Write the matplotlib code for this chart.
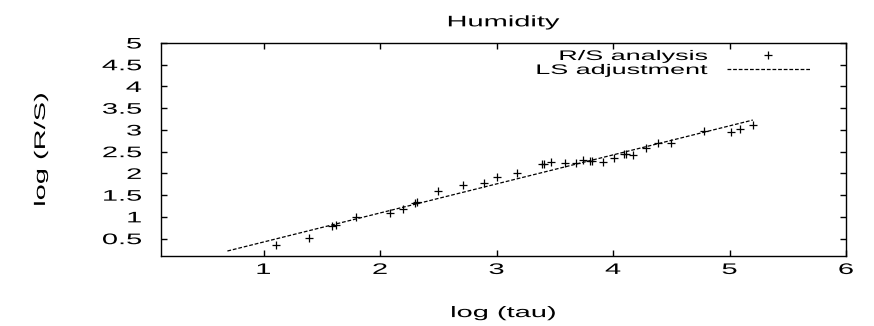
import matplotlib
matplotlib.use("Agg")
import matplotlib.pyplot as plt
import numpy as np
from matplotlib.patheffects import AbstractPathEffect
from matplotlib.transforms import Affine2D

plt.rcParams['font.family'] = ['Liberation Sans', 'DejaVu Sans']

# R/S analysis points
log_tau = [1.107, 1.393, 1.59, 1.62, 1.794, 2.086, 2.20, 2.30, 2.32, 2.495,
           2.71, 2.896, 3.0, 3.18, 3.39, 3.41, 3.47, 3.59, 3.68, 3.74,
           3.80, 3.82, 3.91, 4.01, 4.09, 4.11, 4.17, 4.285, 4.385, 4.50,
           4.785, 5.015, 5.09, 5.20]
log_rs = [0.35, 0.52, 0.79, 0.82, 0.99, 1.09, 1.18, 1.32, 1.34, 1.59,
          1.73, 1.79, 1.91, 2.00, 2.21, 2.21, 2.26, 2.25, 2.24, 2.31,
          2.29, 2.29, 2.26, 2.36, 2.44, 2.44, 2.42, 2.58, 2.69, 2.71,
          2.97, 2.95, 3.02, 3.11]

# least squares line
fit_slope = 0.668
fit_icpt = -0.246
fit_range = [0.69, 5.20]

yticks = [0.5, 1, 1.5, 2, 2.5, 3, 3.5, 4, 4.5, 5]
xticks = [1, 2, 3, 4, 5, 6]

FS = 11
SX = 1.9  # the old gnuplot png looks stretched sideways


class Stretch(AbstractPathEffect):
    """widen glyphs horizontally, keeping left/center/right edge fixed"""
    def __init__(self, sx, anchor='center'):
        super().__init__()
        self.sx = sx
        self.anchor = anchor

    def draw_path(self, renderer, gc, tpath, affine, rgbFace=None):
        ext = tpath.get_extents()
        if self.anchor == 'left':
            x0 = ext.x0
        elif self.anchor == 'right':
            x0 = ext.x1
        else:
            x0 = 0.5 * (ext.x0 + ext.x1)
        t = Affine2D().translate(-x0, 0).scale(self.sx, 1).translate(x0, 0)
        renderer.draw_path(gc, tpath, t + affine, rgbFace)


fig = plt.figure(figsize=(8.74, 3.26), dpi=100)
ax = fig.add_axes([0.1842, 0.2147, 0.7838, 0.6534])

xf = np.array(fit_range)
ax.plot(log_tau, log_rs, linestyle='none', marker='+', markersize=6,
        markeredgewidth=0.9, color='black', label='R/S analysis')
ax.plot(xf, fit_icpt + fit_slope * xf, color='black', linewidth=0.9,
        linestyle=(0, (3, 1.5)), label='LS adjustment')

ax.set_xlim(0.12, 6)
ax.set_ylim(0.1, 5)
ax.set_xticks(xticks)
ax.set_xticklabels(['%g' % t for t in xticks])
ax.set_yticks(yticks)
ax.set_yticklabels(['%g' % t for t in yticks])
ax.tick_params(direction='in', top=True, right=True, length=4, width=1,
               labelsize=FS)
ax.tick_params(axis='y', pad=14)
ax.tick_params(axis='x', pad=5)
for s in ax.spines.values():
    s.set_linewidth(1)

for lbl in ax.get_xticklabels():
    lbl.set_path_effects([Stretch(SX, 'center')])
for lbl in ax.get_yticklabels():
    lbl.set_path_effects([Stretch(SX, 'right')])

title = ax.set_title('Humidity', fontsize=FS, pad=12)
title.set_path_effects([Stretch(SX, 'center')])
xl = ax.set_xlabel('log (tau)', fontsize=FS)
xl.set_path_effects([Stretch(SX, 'center')])
ax.xaxis.set_label_coords(0.5, -0.235)
yl = ax.set_ylabel('log (R/S)', fontsize=FS)
yl.set_path_effects([Stretch(SX, 'center')])
ax.yaxis.set_label_coords(-0.165, 0.5)

# legend: text right-justified, sample on the right like gnuplot
leg_fs = 10
leg = ax.legend(loc='upper right', bbox_to_anchor=(810 / 874, 1 - 49 / 326),
                bbox_transform=fig.transFigure, frameon=False,
                markerfirst=False, fontsize=leg_fs, handlelength=6.0,
                handletextpad=1.37, borderpad=0, borderaxespad=0,
                labelspacing=0)
for t in leg.get_texts():
    t.set_path_effects([Stretch(1.94, 'right')])

plt.savefig('out.png', dpi=100)
